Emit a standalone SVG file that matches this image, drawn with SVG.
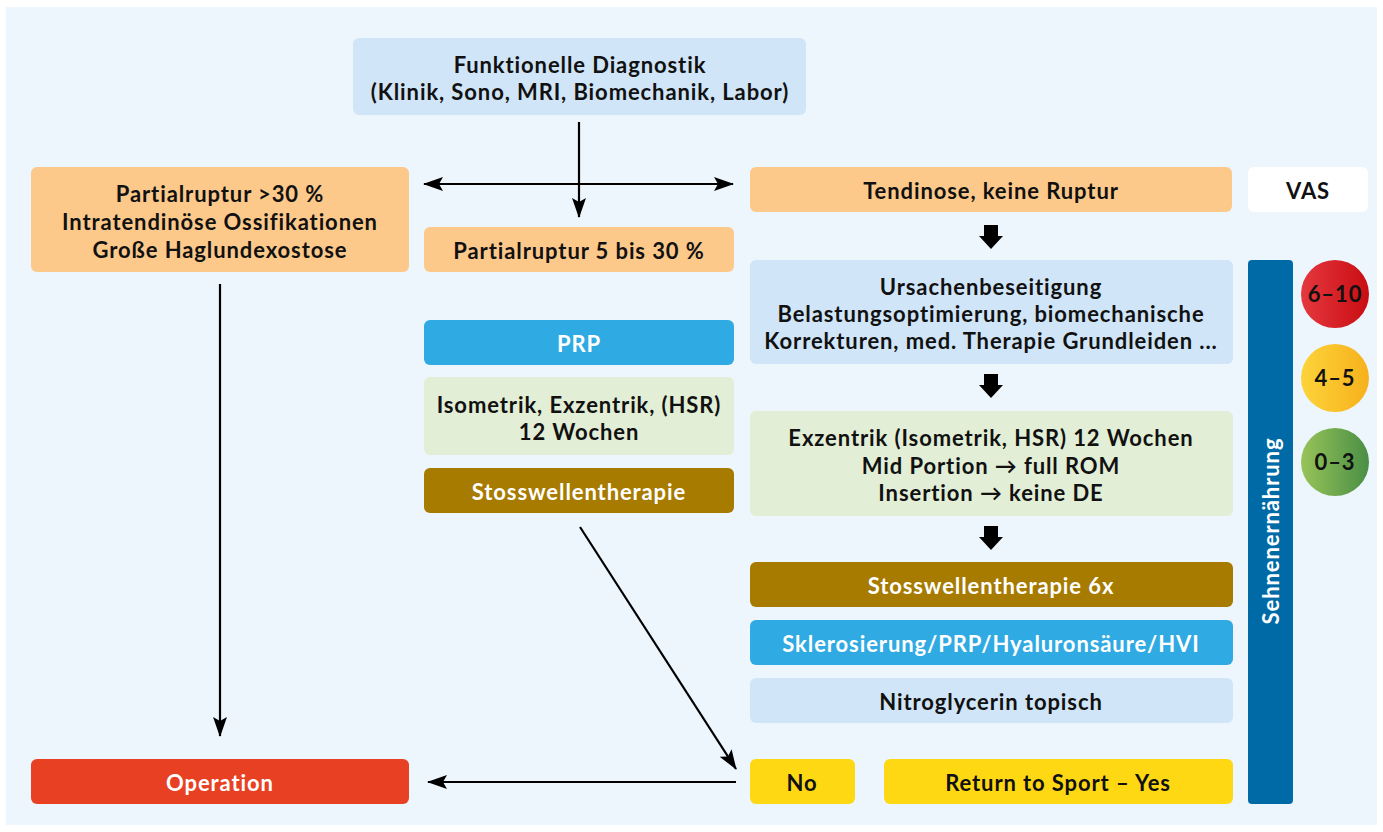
<svg xmlns="http://www.w3.org/2000/svg" width="1383" height="832" viewBox="0 0 1383 832">
<defs>
<style>
.t{font-family:Lato,"Open Sans","DejaVu Sans",sans-serif;font-weight:bold;font-size:22px;letter-spacing:0.9px;text-anchor:middle;fill:#111}
.w{fill:#fff}
.ln{stroke:#000;stroke-width:2.2;fill:none}
.blue{fill:#d0e5f7}.orange{fill:#fdc98b}.green{fill:#e2eed5}.brown{fill:#a77a00}.cyan{fill:#30aae2}.yellow{fill:#ffd814}.red{fill:#e84022}
</style>
<marker id="ah2" viewBox="0 0 20 14" refX="19" refY="7" markerWidth="20" markerHeight="14" markerUnits="userSpaceOnUse" orient="auto-start-reverse">
<path d="M0,0 L20,7 L0,14 L4,7 z" fill="#000"/>
</marker>
<linearGradient id="gr" x1="0" x2="1"><stop offset="0" stop-color="#e5383f"/><stop offset="1" stop-color="#c80d12"/></linearGradient>
<linearGradient id="gy" x1="0" x2="1"><stop offset="0" stop-color="#fdd33a"/><stop offset="1" stop-color="#f6b11c"/></linearGradient>
<linearGradient id="gg" x1="0" x2="1"><stop offset="0" stop-color="#98c459"/><stop offset="1" stop-color="#4a8e45"/></linearGradient>
<path id="blk" d="M-7,0 H7 V11 H12 L0,24 L-12,11 H-7 z" fill="#000"/>
</defs>
<rect x="6" y="7" width="1371" height="818" fill="#eef6fd"/>

<g id="connectors">
<line class="ln" x1="579" y1="122" x2="579" y2="217" marker-end="url(#ah2)"/>
<line class="ln" x1="424" y1="184" x2="733" y2="184" marker-start="url(#ah2)" marker-end="url(#ah2)"/>
<line class="ln" x1="220" y1="284" x2="220" y2="736" marker-end="url(#ah2)"/>
<line class="ln" x1="580" y1="527" x2="736" y2="769" marker-end="url(#ah2)"/>
<line class="ln" x1="736" y1="782" x2="428" y2="782" marker-end="url(#ah2)"/>
<use href="#blk" x="991" y="225"/>
<use href="#blk" x="991" y="374"/>
<use href="#blk" x="991" y="526"/>
</g>

<g id="n-diagnostik"><rect class="blue" x="353" y="38" width="453" height="77" rx="6"/>
<text class="t" x="580" y="73">Funktionelle Diagnostik</text>
<text class="t" x="580" y="100">(Klinik, Sono, MRI, Biomechanik, Labor)</text></g>

<g id="n-partial30"><rect class="orange" x="31" y="167" width="378" height="105" rx="6"/>
<text class="t" x="220" y="202">Partialruptur &gt;30 %</text>
<text class="t" x="220" y="230">Intratendinöse Ossifikationen</text>
<text class="t" x="220" y="258">Große Haglundexostose</text></g>

<g id="n-tendinose"><rect class="orange" x="750" y="167" width="482" height="45" rx="6"/>
<text class="t" x="991" y="199">Tendinose, keine Ruptur</text></g>

<g id="n-vas"><rect fill="#fff" x="1248" y="167" width="120" height="45" rx="6"/>
<text class="t" x="1308" y="199">VAS</text></g>

<g id="n-partial5"><rect class="orange" x="424" y="227" width="310" height="45" rx="6"/>
<text class="t" x="579" y="259">Partialruptur 5 bis 30 %</text></g>

<g id="n-ursachen"><rect class="blue" x="750" y="260" width="483" height="104" rx="6"/>
<text class="t" x="991" y="295">Ursachenbeseitigung</text>
<text class="t" x="991" y="322">Belastungsoptimierung, biomechanische</text>
<text class="t" x="991" y="349">Korrekturen, med. Therapie Grundleiden ...</text></g>

<g id="n-sehnen"><rect x="1248" y="260" width="45" height="544" rx="4" fill="#006aa6"/>
<text class="t w" transform="translate(1279,531) rotate(-90)">Sehnenernährung</text></g>

<g id="n-vas610"><circle cx="1335" cy="294" r="34" fill="url(#gr)"/><text class="t" x="1335" y="302">6–10</text></g>
<g id="n-vas45"><circle cx="1335" cy="378" r="34" fill="url(#gy)"/><text class="t" x="1335" y="386">4–5</text></g>
<g id="n-vas03"><circle cx="1335" cy="462" r="34" fill="url(#gg)"/><text class="t" x="1335" y="470">0–3</text></g>

<g id="n-prp"><rect class="cyan" x="424" y="320" width="310" height="45" rx="6"/>
<text class="t w" x="579" y="352">PRP</text></g>

<g id="n-isometrik"><rect class="green" x="424" y="377" width="310" height="78" rx="6"/>
<text class="t" x="579" y="413">Isometrik, Exzentrik, (HSR)</text>
<text class="t" x="579" y="440">12 Wochen</text></g>

<g id="n-stoss1"><rect class="brown" x="424" y="468" width="310" height="45" rx="6"/>
<text class="t w" x="579" y="500">Stosswellentherapie</text></g>

<g id="n-exzentrik"><rect class="green" x="750" y="411" width="483" height="105" rx="6"/>
<text class="t" x="991" y="446">Exzentrik (Isometrik, HSR) 12 Wochen</text>
<text class="t" x="991" y="474">Mid Portion → full ROM</text>
<text class="t" x="991" y="501">Insertion → keine DE</text></g>

<g id="n-stoss6"><rect class="brown" x="750" y="562" width="483" height="45" rx="6"/>
<text class="t w" x="991" y="594">Stosswellentherapie 6x</text></g>

<g id="n-sklero"><rect class="cyan" x="750" y="620" width="483" height="45" rx="6"/>
<text class="t w" x="991" y="652">Sklerosierung/PRP/Hyaluronsäure/HVI</text></g>

<g id="n-nitro"><rect class="blue" x="750" y="678" width="483" height="45" rx="6"/>
<text class="t" x="991" y="710">Nitroglycerin topisch</text></g>

<g id="n-operation"><rect class="red" x="31" y="759" width="378" height="45" rx="6"/>
<text class="t w" x="220" y="791">Operation</text></g>

<g id="n-no"><rect class="yellow" x="750" y="759" width="105" height="45" rx="6"/>
<text class="t" x="802" y="791">No</text></g>

<g id="n-rts"><rect class="yellow" x="884" y="759" width="349" height="45" rx="6"/>
<text class="t" x="1058" y="791">Return to Sport – Yes</text></g>
</svg>
